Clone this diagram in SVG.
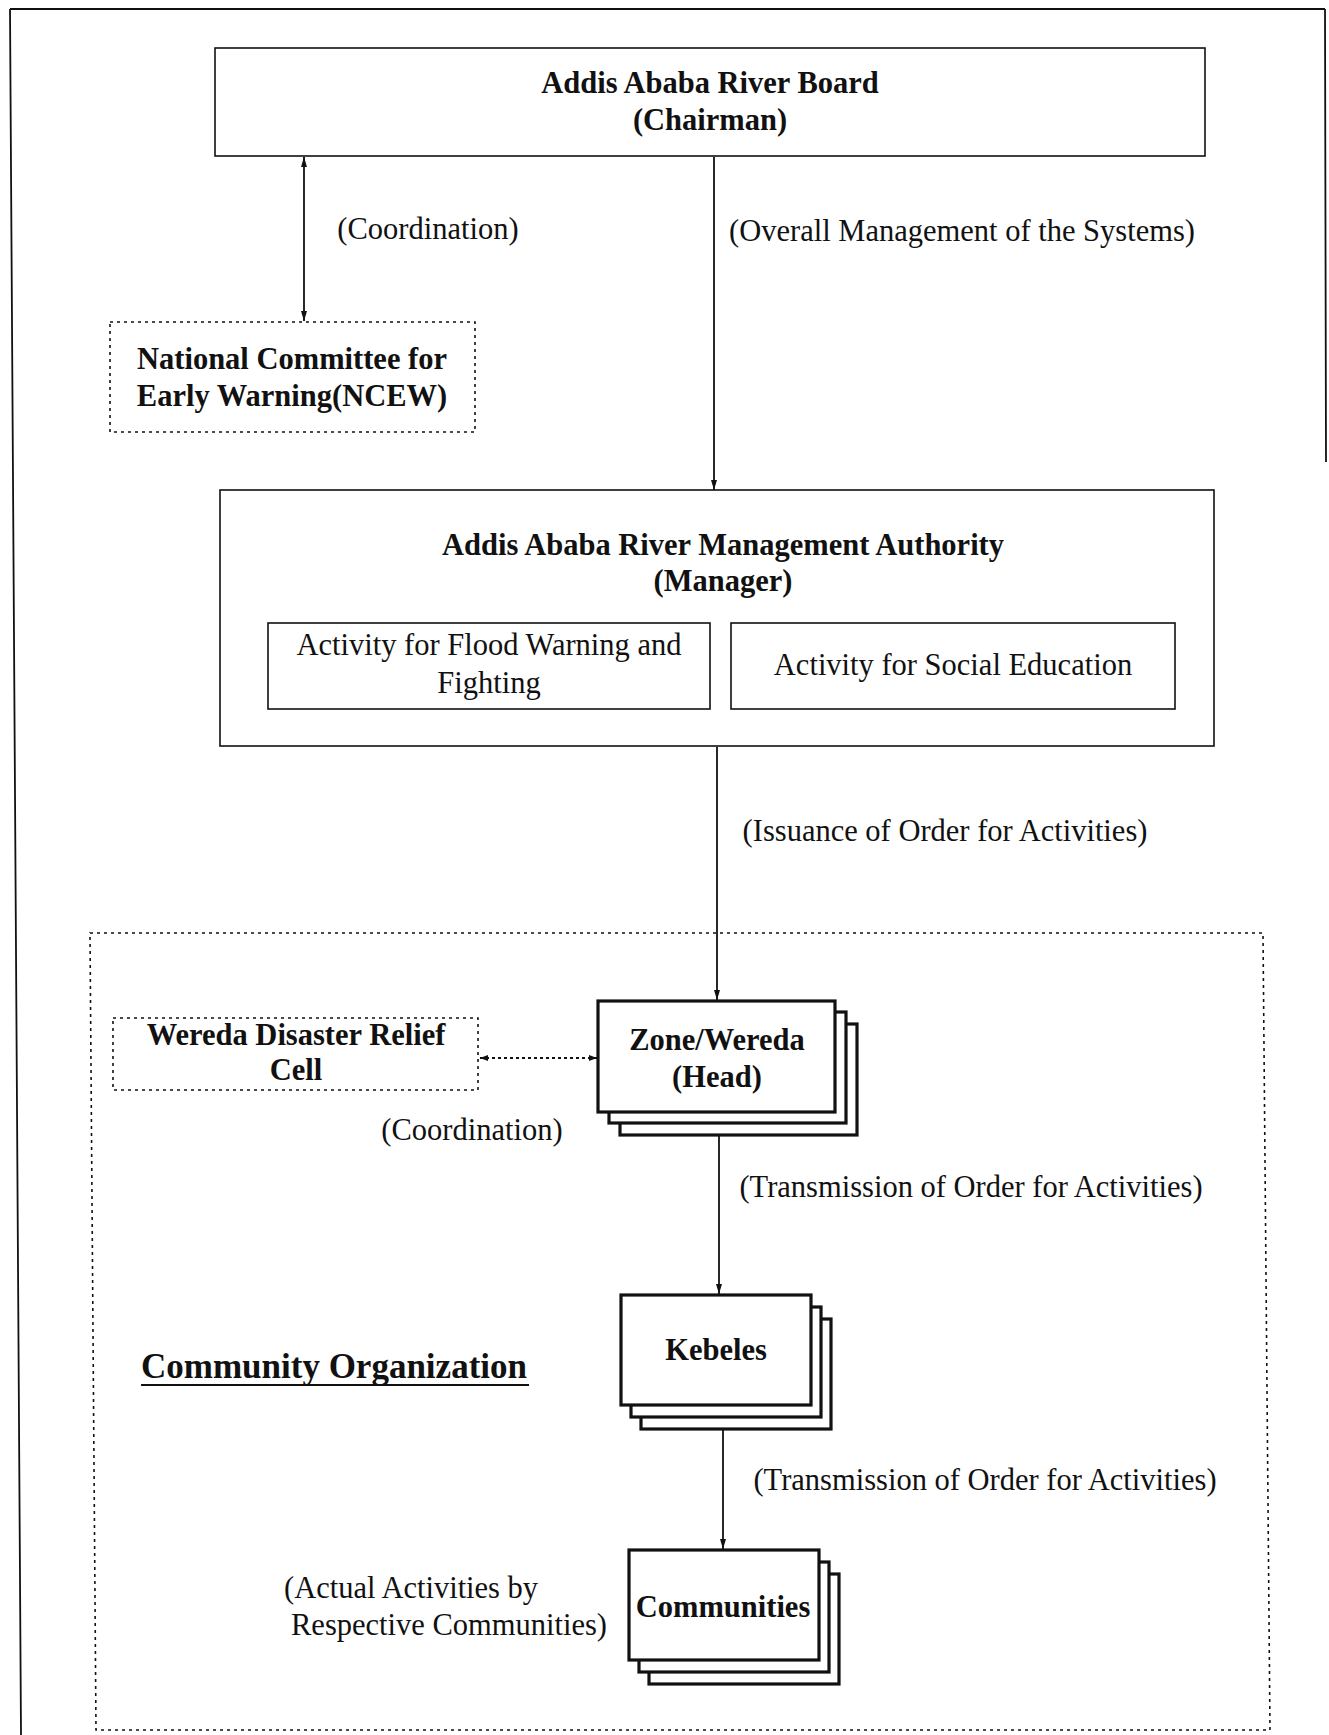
<svg xmlns="http://www.w3.org/2000/svg" width="1329" height="1735" viewBox="0 0 1329 1735">
<defs>
<style>
.t{font-family:"Liberation Serif","Times New Roman",serif;font-size:30.5px;fill:#111;text-anchor:middle}
.b{font-weight:bold}
.box{fill:#fff;stroke:#111;stroke-width:1.6}
.dot{fill:#fff;stroke:#111;stroke-width:1.6;stroke-dasharray:3 4}
.stk{fill:#fff;stroke:#111;stroke-width:3.2}
.ln{fill:none;stroke:#111;stroke-width:1.8}
</style>
<marker id="ah" viewBox="0 0 10 6" refX="10" refY="3" markerWidth="10" markerHeight="6" markerUnits="userSpaceOnUse" orient="auto-start-reverse">
<path d="M0,0 L10,3 L0,6 z" fill="#111"/>
</marker>
<marker id="ahs" viewBox="0 0 8 6" refX="8" refY="3" markerWidth="8" markerHeight="6" markerUnits="userSpaceOnUse" orient="auto-start-reverse">
<path d="M0,0 L8,3 L0,6 z" fill="#111"/>
</marker>
</defs>
<rect width="1329" height="1735" fill="#fff"/>

<g id="frame">
<path class="ln" d="M10 9 L1325 9 M1325 9 L1326 462 M10 9 L21 1735"/>
</g>

<g id="community-organization">
<path class="dot" fill="none" d="M90 933 L1263 933 L1270 1730 L96 1730 Z" style="fill:none"/>
<text class="t b" x="141" y="1378" style="text-anchor:start;font-size:35px">Community Organization</text>
<line x1="141" y1="1385" x2="529" y2="1385" stroke="#111" stroke-width="2"/>
</g>

<g id="connectors">
<line class="ln" x1="304" y1="157" x2="304" y2="321" marker-start="url(#ah)" marker-end="url(#ah)"/>
<line class="ln" x1="714" y1="157" x2="714" y2="490" marker-end="url(#ah)"/>
<line class="ln" x1="717" y1="747" x2="717" y2="1000" marker-end="url(#ah)"/>
<line class="ln" x1="480" y1="1058" x2="597" y2="1058" stroke-dasharray="3 3" stroke-width="1.4" marker-start="url(#ahs)" marker-end="url(#ahs)"/>
<line class="ln" x1="719" y1="1112" x2="719" y2="1294" marker-end="url(#ah)"/>
<line class="ln" x1="723" y1="1406" x2="723" y2="1549" marker-end="url(#ah)"/>
</g>

<g id="connector-labels">
<text class="t" x="428" y="239">(Coordination)</text>
<text class="t" x="962" y="241">(Overall Management of the Systems)</text>
<text class="t" x="945" y="841">(Issuance of Order for Activities)</text>
<text class="t" x="472" y="1140">(Coordination)</text>
<text class="t" x="971" y="1197">(Transmission of Order for Activities)</text>
<text class="t" x="985" y="1490">(Transmission of Order for Activities)</text>
</g>

<g id="river-board">
<rect class="box" x="215" y="48" width="990" height="108"/>
<text class="t b" x="710" y="93">Addis Ababa River Board</text>
<text class="t b" x="710" y="130">(Chairman)</text>
</g>

<g id="ncew">
<rect class="dot" x="110" y="322" width="365" height="110"/>
<text class="t b" x="292" y="369">National Committee for</text>
<text class="t b" x="292" y="406">Early Warning(NCEW)</text>
</g>

<g id="management-authority">
<rect class="box" x="220" y="490" width="994" height="256"/>
<text class="t b" x="723" y="555">Addis Ababa River Management Authority</text>
<text class="t b" x="723" y="591">(Manager)</text>
</g>

<g id="flood-warning">
<rect class="box" x="268" y="623" width="442" height="86"/>
<text class="t" x="489" y="655">Activity for Flood Warning and</text>
<text class="t" x="489" y="693">Fighting</text>
</g>

<g id="social-education">
<rect class="box" x="731" y="623" width="444" height="86"/>
<text class="t" x="953" y="675">Activity for Social Education</text>
</g>

<g id="wereda-relief">
<rect class="dot" x="113" y="1018" width="365" height="72"/>
<text class="t b" x="296" y="1045">Wereda Disaster Relief</text>
<text class="t b" x="296" y="1080">Cell</text>
</g>

<g id="zone-wereda">
<rect class="stk" x="620" y="1024" width="237" height="111"/>
<rect class="stk" x="609" y="1012" width="237" height="111"/>
<rect class="stk" x="598" y="1001" width="237" height="111"/>
<text class="t b" x="717" y="1050">Zone/Wereda</text>
<text class="t b" x="717" y="1087">(Head)</text>
</g>

<g id="kebeles">
<rect class="stk" x="641" y="1319" width="190" height="110"/>
<rect class="stk" x="631" y="1307" width="190" height="110"/>
<rect class="stk" x="621" y="1295" width="190" height="110"/>
<text class="t b" x="716" y="1360">Kebeles</text>
</g>

<g id="communities">
<rect class="stk" x="649" y="1574" width="190" height="110"/>
<rect class="stk" x="639" y="1562" width="190" height="110"/>
<rect class="stk" x="629" y="1550" width="190" height="110"/>
<text class="t b" x="723" y="1617">Communities</text>
</g>

<g id="actual-activities">
<text class="t" x="284" y="1598" style="text-anchor:start">(Actual Activities by</text>
<text class="t" x="291" y="1635" style="text-anchor:start">Respective Communities)</text>
</g>
</svg>
